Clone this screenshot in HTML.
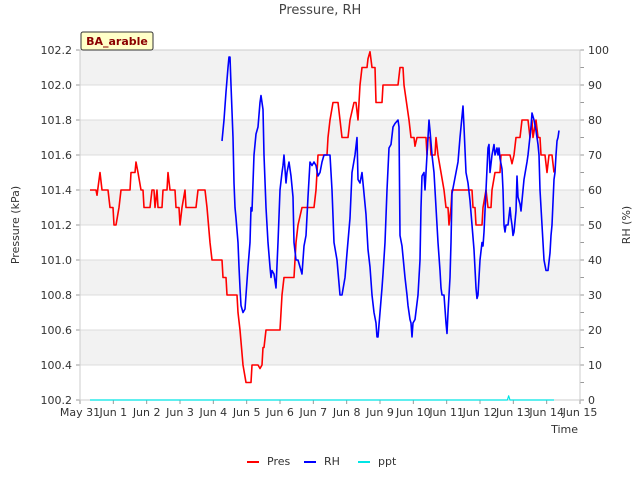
<!DOCTYPE html>
<html><head><meta charset="utf-8"><style>
body{margin:0;background:#fff;font-family:"Liberation Sans","DejaVu Sans",sans-serif}
svg text{font-family:"DejaVu Sans","Liberation Sans",sans-serif}
</style></head><body>
<svg id="c" width="640" height="480" xmlns="http://www.w3.org/2000/svg"></svg>
<script>
const xTickLabels=["May 31","Jun 1","Jun 2","Jun 3","Jun 4","Jun 5","Jun 6","Jun 7","Jun 8","Jun 9","Jun 10","Jun 11","Jun 12","Jun 13","Jun 14","Jun 15"];
const presTicks=[100.2,100.4,100.6,100.8,101.0,101.2,101.4,101.6,101.8,102.0,102.2];
const rhTicks=[0,10,20,30,40,50,60,70,80,90,100];
const presDays=[0.30,.48,.51,.60,.66,.84,.90,.99,1.02,1.08,1.17,1.23,1.29,1.50,1.53,1.65,1.68,1.74,1.83,1.89,1.92,2.10,2.16,2.22,2.25,2.31,2.34,2.46,2.49,2.61,2.64,2.70,2.85,2.88,2.97,3.00,3.06,3.15,3.18,3.48,3.54,3.75,3.81,3.90,3.96,4.26,4.29,4.38,4.41,4.71,4.74,4.80,4.89,4.98,5.13,5.16,5.34,5.40,5.46,5.49,5.52,5.58,5.67,6.00,6.06,6.12,6.42,6.48,6.54,6.66,7.02,7.08,7.14,7.41,7.44,7.50,7.59,7.74,7.80,7.86,8.04,8.10,8.22,8.28,8.34,8.40,8.46,8.61,8.64,8.70,8.76,8.85,8.88,9.06,9.09,9.54,9.60,9.69,9.72,9.87,9.93,10.02,10.05,10.11,10.38,10.41,10.44,10.50,10.53,10.65,10.68,10.74,10.92,10.98,11.04,11.07,11.13,11.16,11.76,11.79,11.85,11.88,12.06,12.09,12.18,12.24,12.33,12.36,12.45,12.60,12.63,12.90,12.96,13.02,13.08,13.20,13.26,13.44,13.50,13.56,13.59,13.68,13.74,13.80,13.83,13.95,14.01,14.07,14.16,14.22];
const presVals=[101.4,101.4,101.37,101.5,101.4,101.4,101.3,101.3,101.2,101.2,101.3,101.4,101.4,101.4,101.5,101.5,101.56,101.5,101.4,101.4,101.3,101.3,101.4,101.4,101.3,101.4,101.3,101.3,101.4,101.4,101.5,101.4,101.4,101.3,101.3,101.2,101.3,101.4,101.3,101.3,101.4,101.4,101.3,101.1,101.0,101.0,100.9,100.9,100.8,100.8,100.7,100.6,100.4,100.3,100.3,100.4,100.4,100.38,100.4,100.5,100.5,100.6,100.6,100.6,100.8,100.9,100.9,101.1,101.2,101.3,101.3,101.4,101.6,101.6,101.7,101.8,101.9,101.9,101.8,101.7,101.7,101.8,101.9,101.9,101.8,102.0,102.1,102.1,102.15,102.19,102.1,102.1,101.9,101.9,102.0,102.0,102.1,102.1,102.0,101.8,101.7,101.7,101.65,101.7,101.7,101.6,101.7,101.7,101.6,101.6,101.7,101.6,101.4,101.3,101.3,101.2,101.3,101.4,101.4,101.3,101.3,101.2,101.2,101.3,101.4,101.3,101.3,101.4,101.5,101.5,101.6,101.6,101.55,101.6,101.7,101.7,101.8,101.8,101.7,101.8,101.7,101.8,101.7,101.7,101.6,101.6,101.5,101.6,101.6,101.5];
const rhDays=[4.26,4.32,4.38,4.44,4.47,4.50,4.53,4.59,4.62,4.65,4.68,4.74,4.77,4.80,4.83,4.89,4.95,4.98,5.04,5.10,5.13,5.16,5.22,5.28,5.34,5.40,5.43,5.49,5.52,5.58,5.64,5.70,5.73,5.76,5.82,5.88,5.94,6.00,6.06,6.09,6.12,6.18,6.21,6.27,6.33,6.39,6.42,6.48,6.54,6.60,6.66,6.72,6.78,6.84,6.90,6.96,7.02,7.08,7.14,7.20,7.26,7.32,7.50,7.56,7.62,7.71,7.80,7.86,7.95,8.01,8.10,8.16,8.25,8.31,8.34,8.40,8.46,8.58,8.64,8.70,8.76,8.82,8.88,8.91,8.94,9.00,9.06,9.09,9.15,9.21,9.27,9.33,9.39,9.45,9.54,9.57,9.60,9.66,9.69,9.75,9.81,9.84,9.90,9.93,9.96,9.99,10.05,10.14,10.20,10.23,10.26,10.32,10.35,10.41,10.47,10.50,10.56,10.62,10.68,10.74,10.80,10.83,10.86,10.92,10.98,11.01,11.04,11.10,11.13,11.16,11.22,11.28,11.34,11.40,11.49,11.52,11.58,11.64,11.70,11.76,11.82,11.88,11.91,11.94,12.00,12.06,12.09,12.12,12.18,12.24,12.27,12.30,12.36,12.42,12.45,12.51,12.54,12.57,12.60,12.66,12.69,12.72,12.75,12.78,12.84,12.90,12.93,12.96,12.99,13.02,13.08,13.11,13.14,13.20,13.23,13.32,13.41,13.44,13.53,13.56,13.62,13.68,13.74,13.77,13.80,13.86,13.89,13.92,13.98,14.04,14.10,14.13,14.16,14.22,14.25,14.28,14.31,14.34,14.37];
const rhVals=[74,80,88,95,98,98,90,75,62,55,52,45,38,32,27,25,26,30,38,45,55,54,70,76,78,85,87,83,70,55,45,38,35,37,36,32,45,60,65,67,70,62,65,68,64,58,45,40,40,38,36,44,47,58,68,67,68,67,64,65,68,70,70,60,45,40,30,30,35,42,52,65,70,75,63,62,65,53,43,38,30,25,22,18,18,25,32,36,45,60,72,73,78,79,80,78,47,44,41,35,30,27,23,22,18,22,23,30,40,55,64,65,60,70,80,77,70,65,55,45,37,32,30,30,22,19,25,35,45,59,62,65,68,75,84,78,65,62,57,50,43,32,29,30,40,45,44,48,60,72,73,65,70,73,70,72,70,72,69,66,60,50,48,50,50,55,52,50,47,48,54,64,58,56,54,63,68,70,78,82,80,77,73,70,60,50,45,40,37,37,42,47,50,63,65,70,74,75,77];
const pptDays=[0.30,12.82,12.86,12.90,14.22];
const pptVals=[0,0,0.12,0,0];

const svg=document.getElementById('c');const NS='http://www.w3.org/2000/svg';
const L=80,R=580,T=50,B=400;
const xs=d=>L+(R-L)*d/15;
const yp=p=>B-(p-100.2)/2.0*(B-T);
const yr=r=>B-r/100*(B-T);
const yq=v=>B-v/10*(B-T);
function el(t,a,txt){const e=document.createElementNS(NS,t);for(const k in a)e.setAttribute(k,a[k]);if(txt!==undefined)e.textContent=txt;svg.appendChild(e);return e;}
for(let i=0;i<presTicks.length-1;i+=2){const b=el('rect',{x:L,y:yp(presTicks[presTicks.length-1-i]),width:R-L,height:yp(presTicks[presTicks.length-2-i])-yp(presTicks[presTicks.length-1-i]),fill:'#f2f2f2'});

}
presTicks.forEach(p=>{const g=el('line',{x1:L,x2:R,y1:yp(p),y2:yp(p),stroke:'#dcdcdc','stroke-width':1});


const t=el('text',{x:L-8,y:yp(p)+4,'font-size':11,'text-anchor':'end',fill:'#333'},p.toFixed(1));


el('line',{x1:L-4,x2:L,y1:yp(p),y2:yp(p),stroke:'#999'});});
rhTicks.forEach(r=>{const t=el('text',{x:R+8,y:yr(r)+4,'font-size':11,fill:'#333'},String(r));


el('line',{x1:R,x2:R+4,y1:yr(r),y2:yr(r),stroke:'#999'});
if(r<100)el('line',{x1:R,x2:R+4,y1:yr(r+5),y2:yr(r+5),stroke:'#999'});});
xTickLabels.forEach((s,i)=>{const t=el('text',{x:xs(i),y:416,'font-size':11,'text-anchor':'middle',fill:'#333'},s);


el('line',{x1:xs(i),x2:xs(i),y1:B,y2:B+4,stroke:'#999'});});
const fr=el('rect',{x:L,y:T,width:R-L,height:B-T,fill:'none',stroke:'#ccc'});


function line(ds,vs,f,col,name,w){const p=el('polyline',{points:ds.map((d,i)=>xs(d)+','+f(vs[i])).join(' '),fill:'none',stroke:col,'stroke-width':w,'stroke-linejoin':'round'});

}
line(pptDays,pptVals,yq,'#00e5e5','ppt-line',1.2);
line(presDays,presVals,yp,'#ff0000','pres-line',1.6);
line(rhDays,rhVals,yr,'#0000ff','rh-line',1.6);
const tt=el('text',{x:320,y:14,'font-size':13,'text-anchor':'middle',fill:'#444'},'Pressure, RH');


const yl=el('text',{x:19,y:225,'font-size':11,'text-anchor':'middle',fill:'#333',transform:'rotate(-90 19 225)'},'Pressure (kPa)');


const yr2=el('text',{x:630,y:225,'font-size':11,'text-anchor':'middle',fill:'#333',transform:'rotate(-90 630 225)'},'RH (%)');


const xl=el('text',{x:578,y:433,'font-size':11,'text-anchor':'end',fill:'#333'},'Time');


const bx=el('rect',{x:81,y:32,width:72,height:18,fill:'#ffffc8',stroke:'#333',rx:2});


const bt=el('text',{x:117,y:45,'font-size':11,'font-weight':'bold','text-anchor':'middle',fill:'#8b0000'},'BA_arable');


[['Pres','#ff0000',247],['RH','#0000ff',304],['ppt','#00e5e5',358]].forEach(([n,c,x])=>{
const l=el('line',{x1:x,x2:x+12,y1:462,y2:462,stroke:c,'stroke-width':2});


const t=el('text',{x:x+20,y:465,'font-size':11,fill:'#333'},n);

});
</script>
</body></html>
